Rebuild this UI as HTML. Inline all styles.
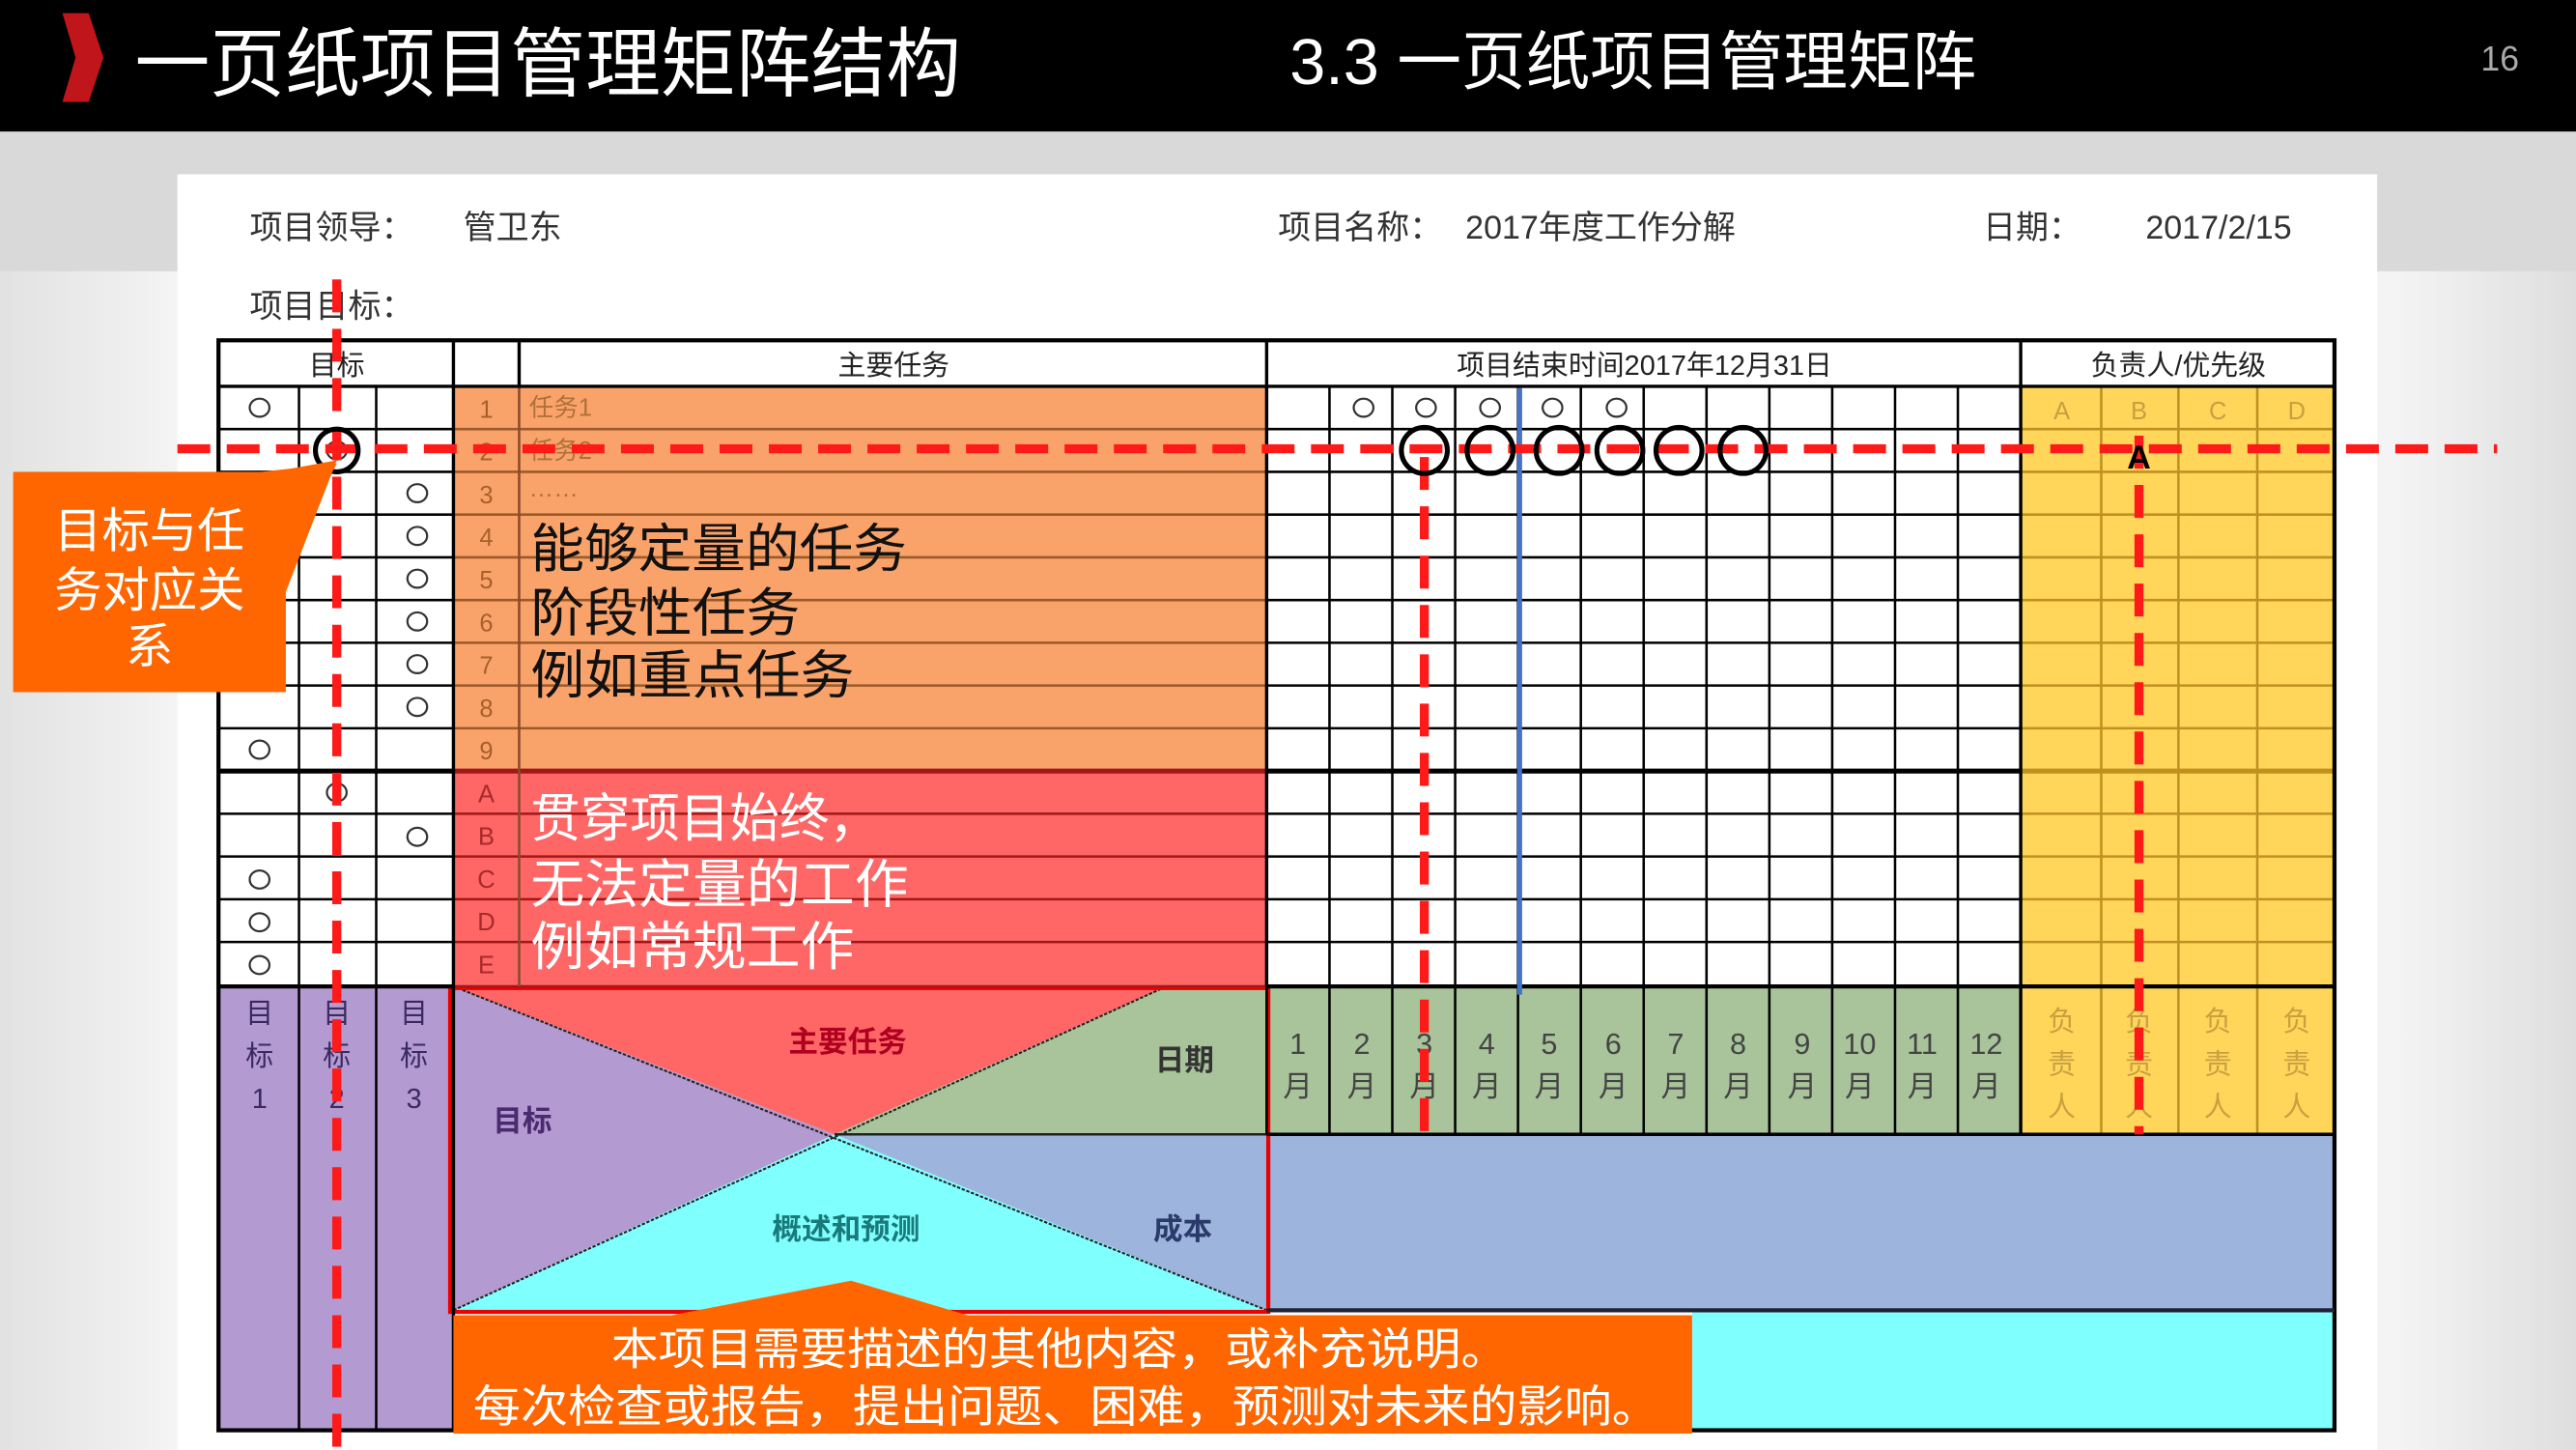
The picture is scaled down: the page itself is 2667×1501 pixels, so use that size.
<!DOCTYPE html>
<html><head><meta charset="utf-8"><style>
html,body{margin:0;padding:0;width:2667px;height:1501px;overflow:hidden;background:#fff}
svg{display:block}
text{font-family:"Liberation Sans","Noto Sans CJK SC","WenQuanYi Zen Hei",sans-serif}
</style></head><body>
<svg width="2667" height="1501" viewBox="0 0 1568 882" preserveAspectRatio="none">
<defs>
<linearGradient id="bg" x1="0" x2="1" y1="0" y2="0">
<stop offset="0" stop-color="#e2e2e2"/><stop offset="0.07" stop-color="#f4f4f4"/><stop offset="0.93" stop-color="#f4f4f4"/><stop offset="1" stop-color="#dedede"/>
</linearGradient>
</defs>
<rect x="0" y="0" width="1568" height="882" fill="url(#bg)"/>
<rect x="0" y="80" width="1568" height="85" fill="#d9d9d9"/>
<rect x="0" y="0" width="1568" height="80" fill="#000"/>
<polygon points="38,8 54,8 63,35 54,62 38,62 46,35" fill="#c0161b"/>
<text x="82" y="55" font-size="46" fill="#fff" textLength="503" lengthAdjust="spacingAndGlyphs">一页纸项目管理矩阵结构</text>
<text x="785" y="51" font-size="39" fill="#fff" textLength="418" lengthAdjust="spacingAndGlyphs">3.3 一页纸项目管理矩阵</text>
<text x="1510" y="43" font-size="21" fill="#aaa">16</text>
<rect x="108" y="106" width="1339" height="776" fill="#fff"/>
<g font-size="20" fill="#333">
<text x="152" y="145">项目领导：</text><text x="282" y="145">管卫东</text>
<text x="778" y="145">项目名称：</text><text x="892" y="145">2017年度工作分解</text>
<text x="1207" y="145">日期：</text><text x="1306" y="145">2017/2/15</text>
<text x="152" y="193">项目目标：</text>
</g>
<rect x="276" y="235" width="495" height="234" fill="#f9a36a"/>
<rect x="276" y="469" width="495" height="131" fill="#ff6666"/>
<rect x="1230" y="235" width="191" height="455" fill="#ffd55a"/>
<rect x="771" y="600" width="459" height="90" fill="#a9c49a"/>
<rect x="133" y="600" width="143" height="270" fill="#b39ad1"/>
<rect x="771" y="690" width="650" height="107" fill="#9db4dd"/>
<rect x="1030" y="797" width="391" height="73" fill="#80ffff"/>
<polygon points="276,600 276,797 508,690" fill="#b39ad1"/>
<polygon points="276,600 710,600 508,690" fill="#ff6666"/>
<polygon points="508,690 710,600 771,600 771,690" fill="#a9c49a"/>
<polygon points="508,690 771,690 771,797" fill="#9db4dd"/>
<polygon points="276,797 508,690 771,797" fill="#80ffff"/>
<g stroke="#222" stroke-width="1.2" stroke-dasharray="2,1">
<line x1="276" y1="600" x2="771" y2="797"/><line x1="276" y1="797" x2="710" y2="600"/>
</g>
<line x1="508" y1="690" x2="771" y2="690" stroke="#222" stroke-width="1.5"/>
<g font-size="18" font-weight="bold">
<text x="480" y="640" fill="#b00020">主要任务</text>
<text x="703" y="651" fill="#333">日期</text>
<text x="300" y="688" fill="#4a2a70">目标</text>
<text x="470" y="754" fill="#1a7a7a">概述和预测</text>
<text x="702" y="754" fill="#2a3a6a">成本</text>
</g>
<rect x="274" y="601" width="498" height="197" fill="none" stroke="#e00" stroke-width="2.5"/>
<g stroke="#000" stroke-width="1.5">
<line x1="133" y1="235" x2="276" y2="235"/><line x1="771" y1="235" x2="1421" y2="235"/>
</g>
<g id="rows" stroke-width="1.5"></g>
<script>
(function(){var g=document.getElementById('rows'),ns='http://www.w3.org/2000/svg';
function L(x1,y1,x2,y2,c,w){var l=document.createElementNS(ns,'line');l.setAttribute('x1',x1);l.setAttribute('y1',y1);l.setAttribute('x2',x2);l.setAttribute('y2',y2);l.setAttribute('stroke',c);l.setAttribute('stroke-width',w||1.5);g.appendChild(l);}
for(var i=1;i<=14;i++){var y=235+i*26+(i==14?1:0);var w=(i==9)?3:1.5;
L(133,y,276,y,'#000',w);L(276,y,771,y,i<9?'#9a5a2a':'#a01818',w);L(771,y,1230,y,'#000',w);L(1230,y,1421,y,'#c09020',w);}
for(var c=0;c<12;c++){var x=771+c*38.25;L(x,235,x,690,'#000',1.5);}
[1279,1326,1374].forEach(function(x){L(x,235,x,690,'#c09020',1.5);});
L(182,235,182,870,'#000',1.5);L(229,235,229,870,'#000',1.5);L(316,235,316,600,'#8a4a2a',1.5);
L(1230,207,1230,690,'#000',2);L(771,207,771,600,'#000',2);L(276,207,276,870,'#000',2);L(316,207,316,235,'#000',2);
})();
</script>
<rect x="133" y="207" width="1288" height="663" fill="none" stroke="#000" stroke-width="2.5"/>
<line x1="133" y1="235" x2="1421" y2="235" stroke="#000" stroke-width="2"/>
<line x1="133" y1="600" x2="276" y2="600" stroke="#000" stroke-width="2.5"/>
<line x1="771" y1="600" x2="1421" y2="600" stroke="#000" stroke-width="2.5"/>
<line x1="771" y1="690" x2="1421" y2="690" stroke="#000" stroke-width="2"/>
<line x1="771" y1="797" x2="1421" y2="797" stroke="#223" stroke-width="2.5"/>
<g font-size="17" fill="#222" text-anchor="middle">
<text x="205" y="228">目标</text><text x="544" y="228">主要任务</text>
<text x="1001" y="228">项目结束时间2017年12月31日</text><text x="1326" y="228">负责人/优先级</text>
</g>
<g font-size="15" fill="#a8602a" text-anchor="middle">
<text x="296" y="254">1</text><text x="296" y="280">2</text><text x="296" y="306">3</text><text x="296" y="332">4</text><text x="296" y="358">5</text><text x="296" y="384">6</text><text x="296" y="410">7</text><text x="296" y="436">8</text><text x="296" y="462">9</text>
</g>
<g font-size="15" fill="#a82a2a" text-anchor="middle">
<text x="296" y="488">A</text><text x="296" y="514">B</text><text x="296" y="540">C</text><text x="296" y="566">D</text><text x="296" y="592">E</text>
</g>
<g font-size="15" fill="#b0703a"><text x="322" y="253">任务1</text><text x="322" y="279">任务2</text><text x="322" y="302">……</text></g>
<g font-size="15" fill="#c8a040" text-anchor="middle"><text x="1255" y="255">A</text><text x="1302" y="255">B</text><text x="1350" y="255">C</text><text x="1398" y="255">D</text></g>
<g fill="none" stroke="#333" stroke-width="1.3">
<ellipse cx="158" cy="248" rx="6" ry="5.5"/><ellipse cx="205" cy="274" rx="6" ry="5.5"/>
<ellipse cx="254" cy="300" rx="6" ry="5.5"/><ellipse cx="254" cy="326" rx="6" ry="5.5"/><ellipse cx="254" cy="352" rx="6" ry="5.5"/><ellipse cx="254" cy="378" rx="6" ry="5.5"/><ellipse cx="254" cy="404" rx="6" ry="5.5"/><ellipse cx="254" cy="430" rx="6" ry="5.5"/>
<ellipse cx="158" cy="456" rx="6" ry="5.5"/><ellipse cx="205" cy="482" rx="6" ry="5.5"/><ellipse cx="254" cy="509" rx="6" ry="5.5"/>
<ellipse cx="158" cy="535" rx="6" ry="5.5"/><ellipse cx="158" cy="561" rx="6" ry="5.5"/><ellipse cx="158" cy="587" rx="6" ry="5.5"/>
<ellipse cx="830" cy="248" rx="6" ry="5.5"/><ellipse cx="868" cy="248" rx="6" ry="5.5"/><ellipse cx="907" cy="248" rx="6" ry="5.5"/><ellipse cx="945" cy="248" rx="6" ry="5.5"/><ellipse cx="984" cy="248" rx="6" ry="5.5"/>
</g>
<g font-size="32" fill="#111">
<text x="323" y="345" textLength="229" lengthAdjust="spacingAndGlyphs">能够定量的任务</text>
<text x="323" y="384" textLength="164" lengthAdjust="spacingAndGlyphs">阶段性任务</text>
<text x="323" y="422" textLength="197" lengthAdjust="spacingAndGlyphs">例如重点任务</text></g>
<g font-size="32" fill="#fff">
<text x="323" y="509" textLength="212" lengthAdjust="spacingAndGlyphs">贯穿项目始终，</text>
<text x="323" y="549" textLength="230" lengthAdjust="spacingAndGlyphs">无法定量的工作</text>
<text x="323" y="587" textLength="197" lengthAdjust="spacingAndGlyphs">例如常规工作</text></g>
<g font-size="17" fill="#3a2a60" text-anchor="middle">
<text x="158" y="622">目</text><text x="158" y="648">标</text><text x="158" y="674">1</text>
<text x="205" y="622">目</text><text x="205" y="648">标</text><text x="205" y="674">2</text>
<text x="252" y="622">目</text><text x="252" y="648">标</text><text x="252" y="674">3</text>
</g>
<g font-size="18" fill="#444" text-anchor="middle">
<text x="790" y="641">1</text><text x="790" y="667">月</text>
<text x="829" y="641">2</text><text x="829" y="667">月</text>
<text x="867" y="641">3</text><text x="867" y="667">月</text>
<text x="905" y="641">4</text><text x="905" y="667">月</text>
<text x="943" y="641">5</text><text x="943" y="667">月</text>
<text x="982" y="641">6</text><text x="982" y="667">月</text>
<text x="1020" y="641">7</text><text x="1020" y="667">月</text>
<text x="1058" y="641">8</text><text x="1058" y="667">月</text>
<text x="1097" y="641">9</text><text x="1097" y="667">月</text>
<text x="1132" y="641">10</text><text x="1132" y="667">月</text>
<text x="1170" y="641">11</text><text x="1170" y="667">月</text>
<text x="1209" y="641">12</text><text x="1209" y="667">月</text>
</g>
<g font-size="17" fill="#c8a040" text-anchor="middle">
<text x="1255" y="627">负</text><text x="1255" y="653">责</text><text x="1255" y="679">人</text>
<text x="1302" y="627">负</text><text x="1302" y="653">责</text><text x="1302" y="679">人</text>
<text x="1350" y="627">负</text><text x="1350" y="653">责</text><text x="1350" y="679">人</text>
<text x="1398" y="627">负</text><text x="1398" y="653">责</text><text x="1398" y="679">人</text>
</g>
<line x1="925" y1="236" x2="925" y2="605" stroke="#4472c4" stroke-width="3"/>
<polygon points="276,800 409,800 518,779 589,800 1030,800 1030,872 276,872" fill="#ff6600"/>
<g font-size="27" fill="#fff">
<text x="372" y="830" textLength="546" lengthAdjust="spacingAndGlyphs">本项目需要描述的其他内容，或补充说明。</text>
<text x="288" y="865" textLength="722" lengthAdjust="spacingAndGlyphs">每次检查或报告，提出问题、困难，预测对未来的影响。</text></g>
<g stroke="#ff1a1a" stroke-width="5.5" stroke-dasharray="20,10">
<line x1="108" y1="273" x2="1520" y2="273"/>
<line x1="205" y1="170" x2="205" y2="882"/>
<line x1="867" y1="278" x2="867" y2="690"/>
<line x1="1302" y1="265" x2="1302" y2="690"/>
</g>
<g fill="none" stroke="#000" stroke-width="3">
<ellipse cx="205" cy="274" rx="13" ry="13"/>
<ellipse cx="867" cy="274" rx="14" ry="14"/><ellipse cx="907" cy="274" rx="14" ry="14"/><ellipse cx="949" cy="274" rx="14" ry="14"/><ellipse cx="986" cy="274" rx="14" ry="14"/><ellipse cx="1022" cy="274" rx="14" ry="14"/><ellipse cx="1061" cy="274" rx="14" ry="14"/>
</g>
<text x="1302" y="285" font-size="20" font-weight="bold" fill="#000" text-anchor="middle">A</text>
<polygon points="150,290 174,290 174,360 205,280" fill="#ff6600"/>
<polygon points="150,288 205,282 174,340" fill="#ff6600"/>
<rect x="8" y="287" width="166" height="134" fill="#ff6600"/>
<g font-size="29" fill="#fff" text-anchor="middle">
<text x="91" y="333" textLength="116" lengthAdjust="spacingAndGlyphs">目标与任</text>
<text x="91" y="369" textLength="116" lengthAdjust="spacingAndGlyphs">务对应关</text>
<text x="91" y="403">系</text></g>
</svg>
</body></html>
